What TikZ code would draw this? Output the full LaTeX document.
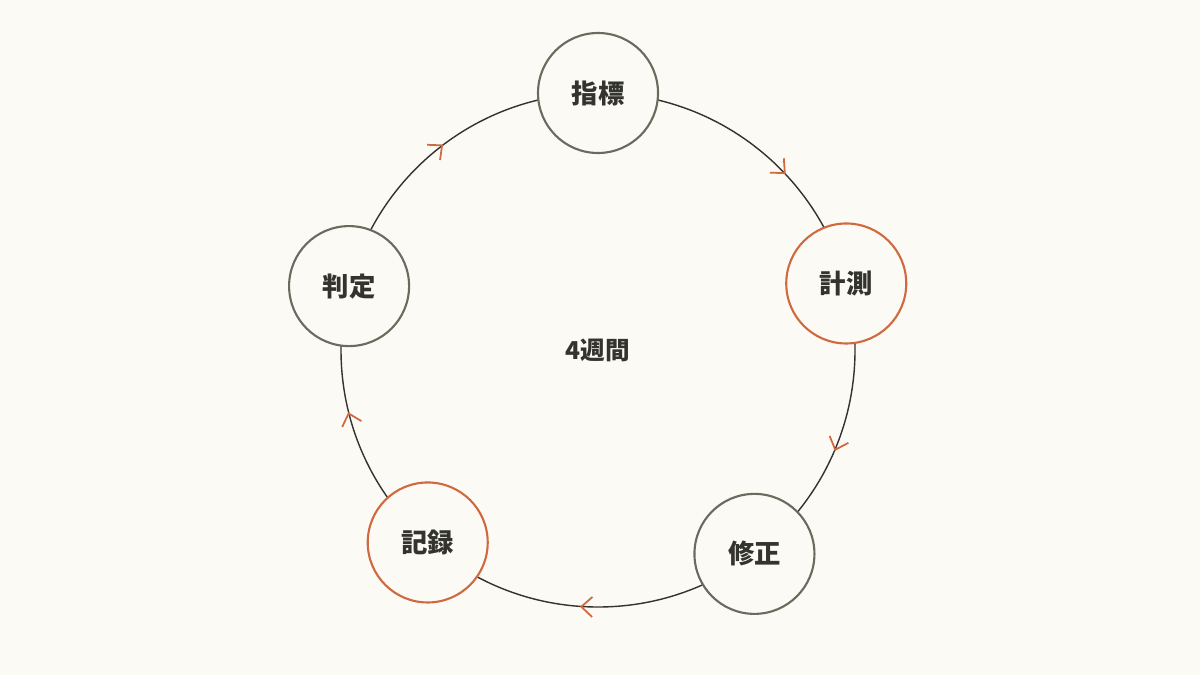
\documentclass[tikz,border=0pt]{standalone}
\usepackage{fontspec}
\setmainfont{Noto Sans CJK JP}
\usetikzlibrary{arrows.meta,decorations.markings,calc}
\definecolor{paper}{HTML}{FCFAF5}
\definecolor{moss}{HTML}{676C5C}
\definecolor{rust}{HTML}{CF6A40}
\definecolor{ink}{HTML}{33332F}
\tikzset{stage/.style={circle,draw=moss,line width=1.2pt,fill=paper,minimum size=2.4cm,font=\fontsize{15}{15}\selectfont\bfseries,text=ink}}
\tikzset{hot/.style={stage,draw=rust}}
\pgfkeys{/pgf/decoration/tick/.style={mark=at position #1 with {\arrow[rust,line width=1pt]{Straight Barb[reversed,length=2.2mm,width=4mm]}}}}

\begin{document}
\begin{tikzpicture}
    \fill[paper] (0,0) rectangle (24,13.5);
    \coordinate (c) at (11.96,6.5);

    \draw[ink,line width=0.8pt,postaction={decorate},
          decoration={markings,tick=0.128,tick=0.361,tick=0.547,tick=0.747,tick=0.944}]
        (c) circle (5.14);

    \node[stage] (goal) at ($(c)+(90:5.14)$) {指標};
    \node[hot] (measure) at ($(c)+(15:5.14)$) {計測};
    \node[stage] (fix) at ($(c)+(-52.5:5.14)$) {修正};
    \node[hot] (log) at ($(c)+(-131.5:5.14)$) {記録};
    \node[stage] (judge) at ($(c)+(165.6:5.14)$) {判定};

    \node[font=\fontsize{14}{14}\selectfont\bfseries,text=ink] (span) at (c) {4週間};
\end{tikzpicture}
\end{document}
